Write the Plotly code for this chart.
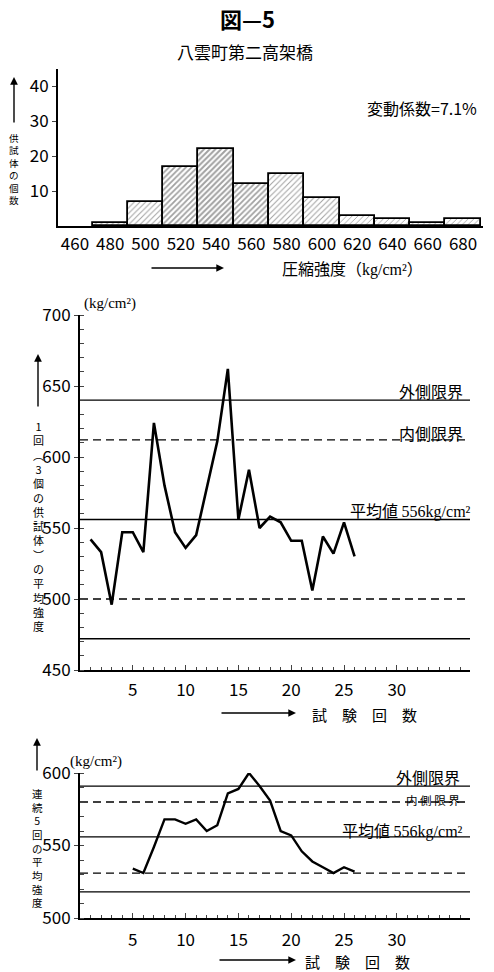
import plotly.graph_objects as go

W, H = 494, 972

# ---------------- data ----------------
hist_bins = [480, 500, 520, 540, 560, 580, 600, 620, 640, 660, 680]
hist_counts = [1, 7, 17, 22, 12, 15, 8, 3, 2, 1, 2]
hist_ticks = [460, 480, 500, 520, 540, 560, 580, 600, 620, 640, 660, 680]
hist_yticks = [10, 20, 30, 40]

test_no = list(range(1, 27))
mean3 = [542, 533, 496, 547, 547, 533, 624, 580, 547, 536, 545, 578, 611,
         662, 556, 591, 550, 558, 554, 541, 541, 506, 544, 532, 554, 530]

run5_no = list(range(5, 27))
mean5 = [534, 531, 549, 568, 568, 565, 568, 560, 564, 586, 589, 600, 591,
         581, 560, 557, 546, 539, 535, 531, 535, 532]

limits3_outer = [640, 472]
limits3_inner = [612, 500]
limits3_mean = 556
limits5_outer = [591, 518]
limits5_inner = [580, 531]
limits5_mean = 556

x_ticks = [5, 10, 15, 20, 25, 30]
y3_ticks = [450, 500, 550, 600, 650, 700]
y5_ticks = [500, 550, 600]

# ---------------- helpers ----------------
def fx(p):
    return p / W

def fy(p):
    return 1 - p / H

JP = "Noto Sans CJK JP"
NUM = "Liberation Sans Narrow, Noto Sans CJK JP"
SERIF = "Liberation Serif, DejaVu Serif"
X_MAX = 36.93

fig = go.Figure()

fig.add_trace(go.Bar(
    x=hist_bins, y=hist_counts, width=20,
    marker=dict(color="white",
                line=dict(color="black", width=1.8),
                pattern=dict(shape="/", fgcolor="#444", bgcolor="white", size=4,
                             solidity=[0.25, 0.25, 0.45, 0.5, 0.45, 0.25, 0.25,
                                       0.22, 0.22, 0.22, 0.22])),
    xaxis="x", yaxis="y", showlegend=False))

def hline(val, xa, ya, dash, width=1.3):
    fig.add_trace(go.Scatter(x=[0, X_MAX], y=[val, val], mode="lines",
                             line=dict(color="black", width=width, dash=dash),
                             xaxis=xa, yaxis=ya, showlegend=False, hoverinfo="skip"))

for v in limits3_outer:
    hline(v, "x2", "y2", "solid")
for v in limits3_inner:
    hline(v, "x2", "y2", "8px,5px")
hline(limits3_mean, "x2", "y2", "solid")

fig.add_trace(go.Scatter(x=test_no, y=mean3, mode="lines",
                         line=dict(color="black", width=2.6),
                         xaxis="x2", yaxis="y2", showlegend=False))

for v in limits5_outer:
    hline(v, "x3", "y3", "solid")
for v in limits5_inner:
    hline(v, "x3", "y3", "8px,5px")
hline(limits5_mean, "x3", "y3", "solid")

fig.add_trace(go.Scatter(x=run5_no, y=mean5, mode="lines",
                         line=dict(color="black", width=2.4),
                         xaxis="x3", yaxis="y3", showlegend=False))

tickfont = dict(family=NUM, size=17, color="black")

fig.update_layout(
    width=W, height=H, autosize=False,
    margin=dict(l=0, r=0, t=0, b=0, pad=0, autoexpand=False),
    paper_bgcolor="white", plot_bgcolor="white",
    bargap=0, showlegend=False,
    xaxis=dict(domain=[fx(58), fx(483)], range=[450.4, 691.3],
               tickvals=hist_ticks, ticks="", showgrid=False, zeroline=False,
               showline=True, linecolor="black", linewidth=2,
               tickfont=tickfont, anchor="y", ticklabelstandoff=2, automargin=False),
    yaxis=dict(domain=[fy(226), fy(69)], range=[0, 44.9],
               tickvals=hist_yticks, ticks="outside", ticklen=4, tickwidth=1.2,
               showgrid=False, zeroline=False,
               showline=True, linecolor="black", linewidth=2,
               tickfont=tickfont, anchor="x", ticklabelstandoff=0, automargin=False),
    xaxis2=dict(domain=[fx(80), fx(470)], range=[0, X_MAX],
                tickvals=x_ticks, ticks="inside", ticklen=5, tickwidth=1.2,
                minor=dict(dtick=1, ticks="inside", ticklen=3, tickwidth=1),
                showgrid=False, zeroline=False,
                showline=True, linecolor="black", linewidth=2.4,
                tickfont=tickfont, anchor="y2", ticklabelstandoff=3, automargin=False),
    yaxis2=dict(domain=[fy(670), fy(315)], range=[450, 700],
                tickvals=y3_ticks, ticks="outside", ticklen=4, tickwidth=1.2,
                minor=dict(dtick=10, ticks="inside", ticklen=4, tickwidth=1),
                showgrid=False, zeroline=False,
                showline=True, linecolor="black", linewidth=2,
                tickfont=tickfont, anchor="x2", ticklabelstandoff=0, automargin=False),
    xaxis3=dict(domain=[fx(80), fx(470)], range=[0, X_MAX],
                tickvals=x_ticks, ticks="inside", ticklen=5, tickwidth=1.2,
                minor=dict(dtick=1, ticks="inside", ticklen=3, tickwidth=1),
                showgrid=False, zeroline=False,
                showline=True, linecolor="black", linewidth=2.4,
                tickfont=tickfont, anchor="y3", ticklabelstandoff=5, automargin=False),
    yaxis3=dict(domain=[fy(918), fy(773)], range=[500, 600],
                tickvals=y5_ticks, ticks="outside", ticklen=4, tickwidth=1.2,
                minor=dict(dtick=10, ticks="inside", ticklen=4, tickwidth=1),
                showgrid=False, zeroline=False,
                showline=True, linecolor="black", linewidth=2,
                tickfont=tickfont, anchor="x3", ticklabelstandoff=0, automargin=False),
)

ann = []

def text(x, y, s, size=16, family=JP, xanchor="center", bold=False):
    if bold:
        s = "<b>" + s + "</b>"
    ann.append(dict(x=fx(x), y=fy(y), xref="paper", yref="paper", text=s,
                    showarrow=False, xanchor=xanchor, yanchor="middle",
                    font=dict(family=family, size=size, color="black")))

def arrow(x0, y0, x1, y1):
    ann.append(dict(x=fx(x1), y=fy(y1), xref="paper", yref="paper", text="",
                    showarrow=True, ax=x0 - x1, ay=y0 - y1, axref="pixel", ayref="pixel",
                    arrowhead=2, arrowsize=1.1, arrowwidth=1.4, arrowcolor="black"))

text(248, 18, "図—5", size=22, bold=True)
text(245, 52, "八雲町第二高架橋", size=17)
text(422, 108, "変動係数=7.1%", size=16)

arrow(14, 124, 14, 77)
text(14, 169, "供<br>試<br>体<br>の<br>個<br>数", size=9.6)
arrow(150, 268, 224, 268)
ann.append(dict(x=fx(280), y=fy(268), xref="paper", yref="paper",
                text="圧縮強度（<span style='font-family:Liberation Serif'>kg/cm²</span>）",
                showarrow=False, xanchor="left", yanchor="middle",
                font=dict(family=JP, size=16, color="black")))

text(82, 303, "(kg/cm²)", size=15, family=SERIF, xanchor="left")
text(465, 391, "外側限界", size=16, xanchor="right")
text(465, 433, "内側限界", size=16, xanchor="right")
ann.append(dict(x=fx(473), y=fy(510), xref="paper", yref="paper",
                text="平均値 <span style='font-family:Liberation Serif'>556kg/cm²</span>",
                showarrow=False, xanchor="right", yanchor="middle",
                font=dict(family=JP, size=16, color="black")))
arrow(38, 408, 38, 354)
text(38, 526, "1<br>回<br>︵<br>3<br>個<br>の<br>供<br>試<br>体<br>︶<br>の<br>平<br>均<br>強<br>度", size=11)
arrow(220, 713, 296, 713)
text(310, 714, "試　験　回　数", size=15, xanchor="left")

text(68, 761, "(kg/cm²)", size=15, family=SERIF, xanchor="left")
text(462, 777, "外側限界", size=16, xanchor="right")
text(462, 800, "内 側 限 界", size=11.5, xanchor="right")
ann.append(dict(x=fx(465), y=fy(830), xref="paper", yref="paper",
                text="平均値 <span style='font-family:Liberation Serif'>556kg/cm²</span>",
                showarrow=False, xanchor="right", yanchor="middle",
                font=dict(family=JP, size=16, color="black")))
arrow(37, 772, 37, 738)
text(37, 848, "連<br>続<br>5<br>回<br>の<br>平<br>均<br>強<br>度", size=10.5)
arrow(218, 960, 296, 960)
text(303, 961, "試　験　回　数", size=15, xanchor="left")

fig.update_layout(annotations=ann)

fig.write_html("out.html", config={"displayModeBar": False},
               post_script="document.body.style.margin='0';")
